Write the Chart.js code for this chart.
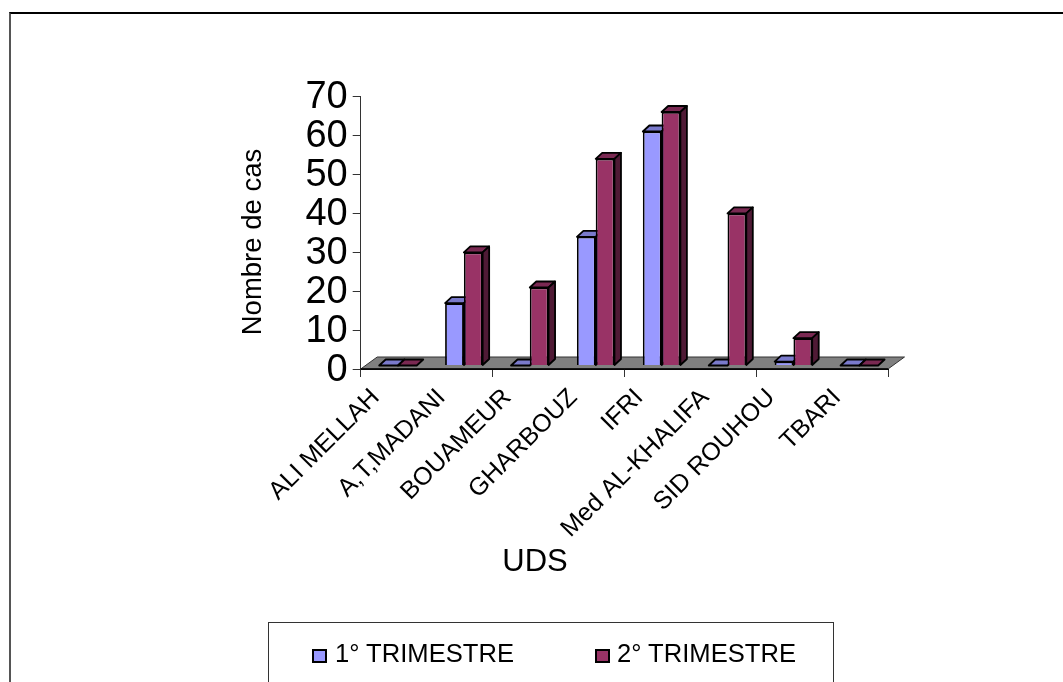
<!DOCTYPE html>
<html>
<head>
<meta charset="utf-8">
<title>Nombre de cas par UDS</title>
<script src="https://cdn.jsdelivr.net/npm/chart.js@4"></script>
<style>
html, body { margin: 0; padding: 0; width: 1063px; height: 682px; overflow: hidden; background: #fff; }
#wrap { position: relative; width: 1063px; height: 682px; overflow: hidden; }
#frame { position: absolute; left: 9px; top: 12px; width: 1100px; height: 700px; border-left: 2px solid #555; border-top: 2px solid #000; box-sizing: border-box; }
#legend { position: absolute; left: 268px; top: 622px; width: 566px; height: 80px; border: 1px solid #333; box-sizing: border-box; font: 25.6px "Liberation Sans", Arial, sans-serif; color: #000; }
#legend span { position: absolute; top: 16px; white-space: nowrap; }
#legend i { position: absolute; top: 26px; width: 15px; height: 14px; border: 2px solid #000; box-sizing: border-box; }
canvas { position: absolute; left: 0; top: 0; }
</style>
</head>
<body>
<div id="wrap">
  <div id="frame"></div>
  <canvas id="cas" width="1063" height="682"></canvas>
  <div id="legend"></div>
</div>
<script>
const categories = ['ALI MELLAH', 'A,T,MADANI', 'BOUAMEUR', 'GHARBOUZ', 'IFRI', 'Med AL-KHALIFA', 'SID ROUHOU', 'TBARI'];
const trimestre1 = [0, 16, 0, 33, 60, 0, 1, 0];
const trimestre2 = [0, 29, 20, 53, 65, 39, 7, 0];
const seriesNames = ['1° TRIMESTRE', '2° TRIMESTRE'];
const yTitle = 'Nombre de cas';
const xTitle = 'UDS';

const font = '"Liberation Sans", Arial, sans-serif';
// front, top and side colours of the bars
const faces = [
    { front: '#9999ff', top: '#7a7acc', side: '#5c5c99' },
    { front: '#993366', top: '#7a2952', side: '#4f1a35' }
];
// the bars stand a bit inside the grey floor
const barShift = { x: 4.3, y: -3.5 };
const barDepth = { x: 6.5, y: -6 };
const floorDepth = { x: 16.5, y: -12 };

function drawDepth(ctx, meta, f) {
    ctx.lineWidth = 1.8;
    ctx.strokeStyle = '#000';
    ctx.lineJoin = 'round';
    meta.data.forEach((bar) => {
        const l = bar.x - bar.width / 2;
        const r = bar.x + bar.width / 2;
        const t = bar.y;
        const b = bar.base;
        // top face
        ctx.beginPath();
        ctx.moveTo(l, t);
        ctx.lineTo(l + barDepth.x, t + barDepth.y);
        ctx.lineTo(r + barDepth.x, t + barDepth.y);
        ctx.lineTo(r, t);
        ctx.closePath();
        ctx.fillStyle = f.top;
        ctx.fill();
        ctx.stroke();
        // side face, nothing to show for an empty bar
        if (b - t > 0.5) {
            ctx.beginPath();
            ctx.moveTo(r, t);
            ctx.lineTo(r + barDepth.x, t + barDepth.y);
            ctx.lineTo(r + barDepth.x, b + barDepth.y);
            ctx.lineTo(r, b);
            ctx.closePath();
            ctx.fillStyle = f.side;
            ctx.fill();
            ctx.stroke();
        }
    });
}

const fake3d = {
    id: 'fake3d',
    beforeDatasetsDraw(chart) {
        const { ctx, chartArea: a } = chart;
        ctx.save();
        ctx.beginPath();
        ctx.moveTo(a.left, a.bottom);
        ctx.lineTo(a.left + floorDepth.x, a.bottom + floorDepth.y);
        ctx.lineTo(a.right + floorDepth.x, a.bottom + floorDepth.y);
        ctx.lineTo(a.right, a.bottom);
        ctx.closePath();
        ctx.fillStyle = '#808080';
        ctx.fill();
        ctx.strokeStyle = '#333';
        ctx.lineWidth = 1;
        ctx.stroke();
        ctx.beginPath();
        ctx.moveTo(a.left, a.bottom);
        ctx.lineTo(a.right, a.bottom);
        ctx.strokeStyle = '#000';
        ctx.lineWidth = 1.5;
        ctx.stroke();
        ctx.restore();
    },
    // Chart.js paints the first dataset last, here the second one has to cover the first
    beforeDatasetDraw() {
        return false;
    },
    afterDatasetsDraw(chart) {
        const { ctx } = chart;
        chart.data.datasets.forEach((ds, i) => {
            const meta = chart.getDatasetMeta(i);
            ctx.save();
            ctx.translate(barShift.x, barShift.y);
            meta.controller.draw();
            drawDepth(ctx, meta, faces[i]);
            ctx.restore();
        });
    },
    afterDraw(chart) {
        const { ctx } = chart;
        ctx.save();
        ctx.fillStyle = '#000';
        ctx.textAlign = 'center';
        ctx.textBaseline = 'middle';
        ctx.font = '31px ' + font;
        ctx.fillText(xTitle, 535, 562);
        ctx.font = '27.5px ' + font;
        ctx.translate(253, 242);
        ctx.rotate(-Math.PI / 2);
        ctx.fillText(yTitle, 0, 0);
        ctx.restore();
    }
};

new Chart(document.getElementById('cas'), {
    type: 'bar',
    data: {
        labels: categories,
        datasets: [
            { label: seriesNames[0], data: trimestre1, backgroundColor: faces[0].front, borderColor: '#000', borderWidth: 1.8 },
            { label: seriesNames[1], data: trimestre2, backgroundColor: faces[1].front, borderColor: '#000', borderWidth: 1.8 }
        ]
    },
    options: {
        responsive: false,
        animation: false,
        layout: { padding: { left: 0, top: 96, right: 175, bottom: 0 } },
        categoryPercentage: 0.57,
        barPercentage: 1,
        plugins: { legend: { display: false }, tooltip: { enabled: false } },
        scales: {
            x: {
                afterFit(scale) {
                    scale.height = 313;
                    scale.paddingLeft = 0;
                    scale.paddingRight = 0;
                },
                border: { color: '#000', width: 1 },
                grid: {
                    offset: true,
                    drawOnChartArea: false,
                    tickLength: 8,
                    tickColor: (c) => (c.index % 2 ? 'rgba(0,0,0,0)' : '#333')
                },
                ticks: {
                    autoSkip: false,
                    minRotation: 45,
                    maxRotation: 45,
                    padding: 6,
                    labelOffset: -18,
                    color: '#000',
                    font: { family: font, size: 25 }
                }
            },
            y: {
                min: 0,
                max: 70,
                afterFit(scale) {
                    scale.width = 360.7;
                    scale.paddingTop = 0;
                    scale.paddingBottom = 0;
                },
                border: { color: '#333', width: 1 },
                grid: { drawOnChartArea: false, tickLength: 8, tickColor: '#333' },
                ticks: {
                    stepSize: 10,
                    autoSkip: false,
                    padding: 5,
                    labelOffset: 2,
                    color: '#000',
                    font: { family: font, size: 38 }
                }
            }
        }
    },
    plugins: [fake3d]
});

// legend box runs past the bottom of the page like in the picture
const legendBox = document.getElementById('legend');
const legendPlaces = [{ mark: 43, text: 66 }, { mark: 326, text: 348 }];
seriesNames.forEach((name, i) => {
    const mark = document.createElement('i');
    mark.style.left = legendPlaces[i].mark + 'px';
    mark.style.background = faces[i].front;
    const text = document.createElement('span');
    text.style.left = legendPlaces[i].text + 'px';
    text.textContent = name;
    legendBox.append(mark, text);
});
</script>
</body>
</html>
